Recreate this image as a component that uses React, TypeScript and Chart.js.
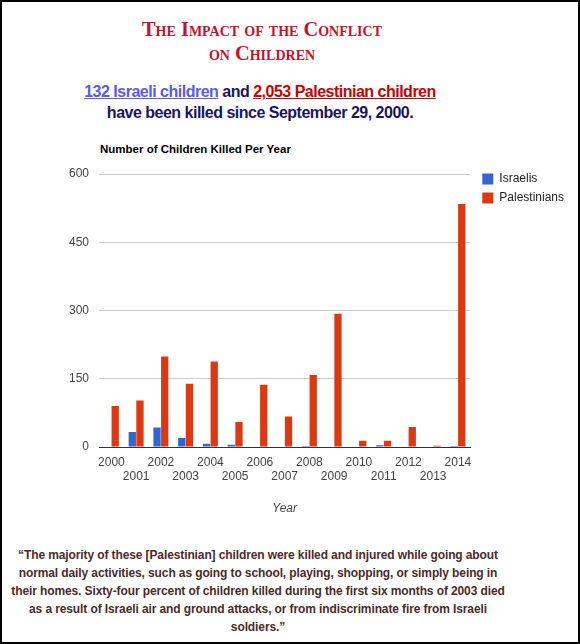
import React, { useEffect, useRef } from "react";
import { Chart, registerables } from "chart.js";

Chart.register(...registerables);

// Children killed per year, by side
const years = ["2000", "2001", "2002", "2003", "2004", "2005", "2006", "2007", "2008", "2009", "2010", "2011", "2012", "2013", "2014"];
const israelis = [0, 33, 43, 20, 7, 5, 1, 0, 2, 0, 0, 4, 0, 0, 2];
const palestinians = [90, 102, 199, 139, 188, 55, 137, 67, 158, 293, 14, 14, 44, 3, 534];
const yMax = 600;
const yStep = 150;

const SANS = '"Liberation Sans", Arial, sans-serif';
const SERIF = '"Liberation Serif", "Times New Roman", serif';

const quoteLines = [
  "\u201CThe majority of these [Palestinian] children were killed and injured while going about",
  "normal daily activities, such as going to school, playing, shopping, or simply being in",
  "their homes. Sixty-four percent of children killed during the first six months of 2003 died",
  "as a result of Israeli air and ground attacks, or from indiscriminate fire from Israeli",
  "soldiers.\u201D",
];

// nudges the legend block so it sits level with the top gridline
const legendOffset = {
  id: "legendOffset",
  afterLayout(chart: any) {
    const lg = chart.legend;
    if (!lg) return;
    lg.top -= 8;
    lg.bottom -= 8;
    lg.left += 5;
    lg.right += 5;
  },
};

export default function App() {
  const ref = useRef<HTMLCanvasElement>(null);

  useEffect(() => {
    document.body.style.margin = "0";
    const canvas = ref.current;
    if (!canvas) return;
    // stagger the year labels over two rows
    const labels = years.map((y, i) => (i % 2 === 0 ? [y, ""] : ["", y]));
    const chart = new Chart(canvas, {
      type: "bar",
      data: {
        labels,
        datasets: [
          {
            label: "Israelis",
            data: israelis,
            backgroundColor: "#3366cc",
            categoryPercentage: 0.62,
            barPercentage: 0.95,
          },
          {
            label: "Palestinians",
            data: palestinians,
            backgroundColor: "#dc3912",
            categoryPercentage: 0.62,
            barPercentage: 0.95,
          },
        ],
      },
      plugins: [legendOffset],
      options: {
        responsive: false,
        animation: false,
        layout: { padding: { top: 14, right: 11, left: 0, bottom: 0 } },
        plugins: {
          tooltip: { enabled: false },
          title: { display: false },
          legend: {
            position: "right",
            align: "start",
            labels: {
              boxWidth: 11,
              boxHeight: 11,
              padding: 7,
              color: "#222",
              font: { family: SANS, size: 12 },
            },
          },
        },
        scales: {
          x: {
            grid: { display: false },
            border: { display: true, color: "#333", width: 1 },
            ticks: {
              color: "#444",
              font: { family: SANS, size: 12 },
              maxRotation: 0,
              autoSkip: false,
              padding: 0,
            },
            title: {
              display: true,
              text: "Year",
              color: "#444",
              font: { family: SANS, size: 12, style: "italic" },
              padding: { top: 4, bottom: 4 },
            },
            afterFit: (s: any) => {
              s.height = 73;
            },
          },
          y: {
            min: 0,
            max: yMax,
            grid: { color: "#cccccc", drawTicks: false },
            border: { display: false },
            ticks: {
              stepSize: yStep,
              color: "#444",
              font: { family: SANS, size: 12 },
              padding: 10,
            },
            afterFit: (s: any) => {
              s.width = 99;
              s.paddingTop = 0;
              s.paddingBottom = 0;
            },
          },
        },
      },
    });
    return () => chart.destroy();
  }, []);

  return (
    <div
      style={{
        position: "relative",
        width: 580,
        height: 644,
        boxSizing: "border-box",
        border: "2px solid #000",
        background: "#fff",
        fontFamily: SANS,
        overflow: "hidden",
      }}
    >
      <div
        style={{
          position: "absolute",
          left: -2,
          top: 15,
          width: 524,
          textAlign: "center",
          fontFamily: SERIF,
          fontWeight: "bold",
          fontVariant: "small-caps",
          fontSize: 20.4,
          lineHeight: "24px",
          color: "#c8102e",
        }}
      >
        <div>The Impact of the Conflict</div>
        <div>on Children</div>
      </div>
      <div
        style={{
          position: "absolute",
          left: -2,
          top: 79,
          width: 520,
          textAlign: "center",
          fontWeight: "bold",
          fontSize: 16,
          letterSpacing: "-0.5px",
          lineHeight: "21px",
          color: "#1b1464",
        }}
      >
        <div>
          <span style={{ color: "#5a5aee", textDecoration: "underline" }}>132 Israeli children</span>
          {" and "}
          <span style={{ color: "#cc0000", textDecoration: "underline" }}>2,053 Palestinian children</span>
        </div>
        <div>have been killed since September 29, 2000.</div>
      </div>
      <div
        style={{
          position: "absolute",
          left: 98,
          top: 141,
          fontWeight: "bold",
          fontSize: 11.5,
          lineHeight: "13px",
          color: "#000",
          whiteSpace: "nowrap",
        }}
      >
        Number of Children Killed Per Year
      </div>
      <div style={{ position: "absolute", left: -2, top: 158, width: 580, height: 360 }}>
        <canvas ref={ref} width={580} height={360} />
      </div>
      <div
        style={{
          position: "absolute",
          left: -2,
          top: 544,
          width: 516,
          textAlign: "center",
          fontWeight: "bold",
          fontSize: 12,
          letterSpacing: "-0.11px",
          lineHeight: "18px",
          color: "#4b2a2a",
          whiteSpace: "nowrap",
        }}
      >
        {quoteLines.map((l, i) => (
          <div key={i}>{l}</div>
        ))}
      </div>
    </div>
  );
}
